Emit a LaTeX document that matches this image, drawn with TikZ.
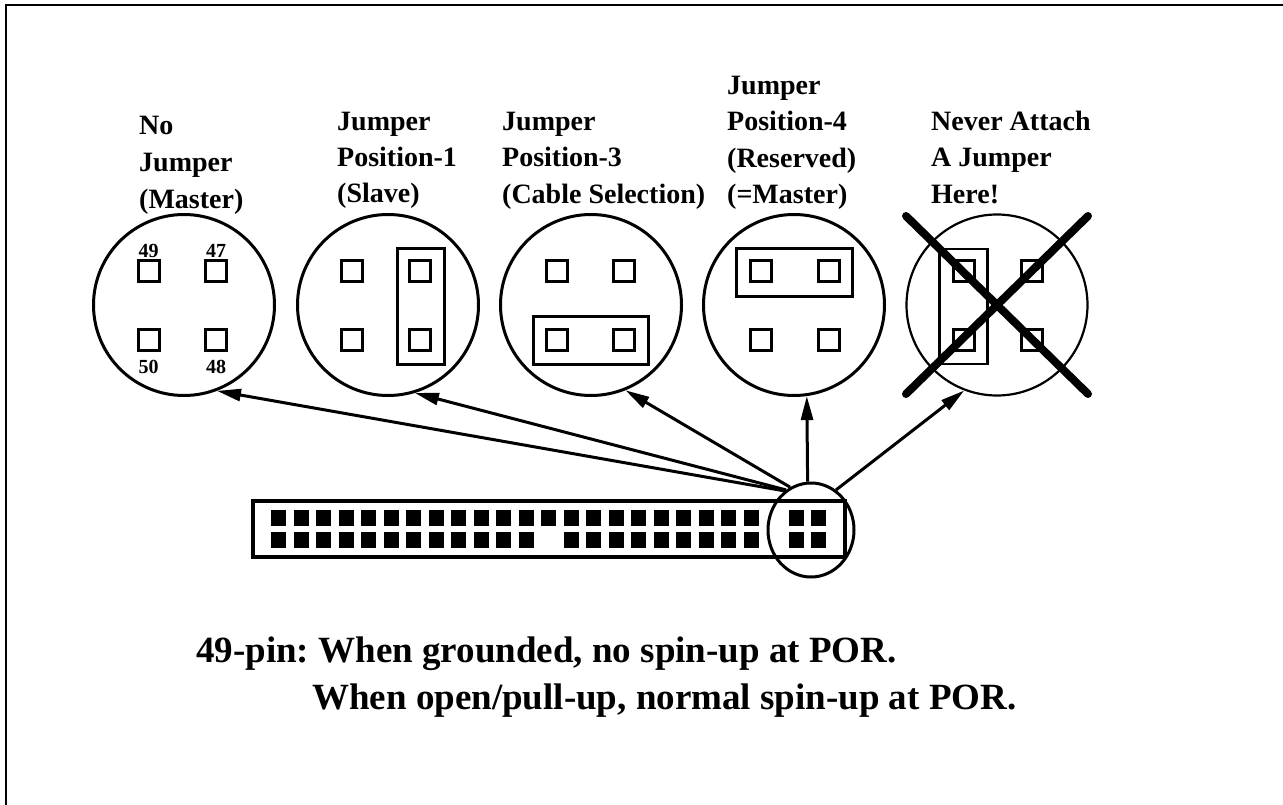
\documentclass[tikz,border=0pt]{standalone}
\usepackage{fontspec}
\setmainfont{Liberation Serif}
\newfontfamily\lblfont{Liberation Serif}
\newfontfamily\botfont{Liberation Serif}
\usetikzlibrary{arrows.meta,shapes.geometric,calc}
\frenchspacing
\tikzset{
 disc/.style={circle, draw, line width=3pt, minimum size=181pt, inner sep=0pt},
 pad/.style={rectangle, draw, line width=3pt, minimum size=21pt, inner sep=0pt},
 jmp/.style={draw, line width=3pt},
 lbl/.style={anchor=base west, inner sep=0pt, font=\lblfont\bfseries\fontsize{28}{32}\selectfont\frenchspacing},
 pinno/.style={anchor=base, inner sep=0pt, font=\lblfont\bfseries\fontsize{20}{22}\selectfont},
 hole/.style={rectangle, fill=black, minimum width=15pt, minimum height=16pt, inner sep=0pt},
 link/.style={line width=3pt, -{Triangle[length=24pt,width=12pt]}},
 note/.style={anchor=base west, inner sep=0pt, font=\botfont\bfseries\fontsize{37}{44}\selectfont\frenchspacing},
}
\begin{document}
\begin{tikzpicture}[x=1pt,y=-1pt]
\useasboundingbox (0,0) rectangle (1283,805);
% frame
\draw[line width=2.5pt] (6,805) -- (6,5) -- (1283,5);

% circles
\node[disc] (c1) at (184,305) {};
\node[disc] (c2) at (388,305) {};
\node[disc] (c3) at (591,305) {};
\node[disc] (c4) at (794,305) {};
\node[disc, line width=2.2pt] (c5) at (997,305) {};

% pads
\node[pad] (c1a) at (149,271.5) {};
\node[pad] (c1b) at (216,271.5) {};
\node[pad] (c1c) at (149,340) {};
\node[pad] (c1d) at (216,340) {};
\node[pad] (c2a) at (352,271.5) {};
\node[pad] (c2b) at (420,271.5) {};
\node[pad] (c2c) at (352,340) {};
\node[pad] (c2d) at (420,340) {};
\node[pad] (c3a) at (557,271.5) {};
\node[pad] (c3b) at (624,271.5) {};
\node[pad] (c3c) at (557,340) {};
\node[pad] (c3d) at (624,340) {};
\node[pad] (c4a) at (761,271.5) {};
\node[pad] (c4b) at (828.5,271.5) {};
\node[pad] (c4c) at (761,340) {};
\node[pad] (c4d) at (828.5,340) {};
\node[pad] (c5a) at (964,271.5) {};
\node[pad] (c5b) at (1032,271.5) {};
\node[pad] (c5c) at (964,340) {};
\node[pad] (c5d) at (1032,340) {};

% pin numbers
\node[pinno] (n49) at (148.5,258) {49};
\node[pinno] (n47) at (216,258) {47};
\node[pinno] (n50) at (148.5,373) {50};
\node[pinno] (n48) at (216,373) {48};

% jumpers
\draw[jmp] (397,249) rectangle (444,364);
\draw[jmp] (533,316) rectangle (648,364);
\draw[jmp] (736,249) rectangle (852,296);
\draw[jmp, line width=2.2pt] (939.5,249) rectangle (987.5,364);

% cross
\draw[line width=8pt, line cap=round] (906,216) -- (1088,394);
\draw[line width=8pt, line cap=round] (1088,216) -- (906,394);

% labels
\node[lbl] (l1a) at (139,135) {No};
\node[lbl] (l1b) at (139,172) {Jumper};
\node[lbl] (l1c) at (139,209) {(Master)};
\node[lbl] (l2a) at (337,131) {Jumper};
\node[lbl] (l2b) at (337,167) {Position-1};
\node[lbl] (l2c) at (337,203) {(Slave)};
\node[lbl] (l3a) at (502,131) {Jumper};
\node[lbl] (l3b) at (502,167) {Position-3};
\node[lbl] (l3c) at (502,204) {(Cable Selection)};
\node[lbl] (l4a) at (727,95) {Jumper};
\node[lbl] (l4b) at (727,131) {Position-4};
\node[lbl] (l4c) at (727,168) {(Reserved)};
\node[lbl] (l4d) at (727,204) {(=Master)};
\node[lbl] (l5a) at (931,131) {Never Attach};
\node[lbl] (l5b) at (931,167) {A Jumper};
\node[lbl] (l5c) at (931,204) {Here!};

% connector strip
\draw[line width=4pt] (253,501) rectangle (845,557);
\foreach \i in {0,...,21,23,24} \node[hole] (ht\i) at ({278.5+22.5*\i},517.5) {};
\foreach \i in {0,...,11,13,14,...,21,23,24} \node[hole] (hb\i) at ({278.5+22.5*\i},540) {};
\node[ellipse, draw, line width=3pt, minimum width=86pt, minimum height=94pt, inner sep=0pt] (sel) at (811,530) {};

% arrows
\draw[link] (sel.124) -- (c1.-69);
\draw[link] (sel.122) -- (c2.-73);
\draw[link] (sel.116) -- (c3.-68);
\draw[link] (sel.94) -- (c4.-82);
\draw[link] (sel.58) -- (c5.-111);

% note
\node[note] (t1) at (196,662) {49-pin: When grounded, no spin-up at POR.};
\node[note] (t2) at (312,709) {When open/pull-up, normal spin-up at POR.};
\end{tikzpicture}
\end{document}
